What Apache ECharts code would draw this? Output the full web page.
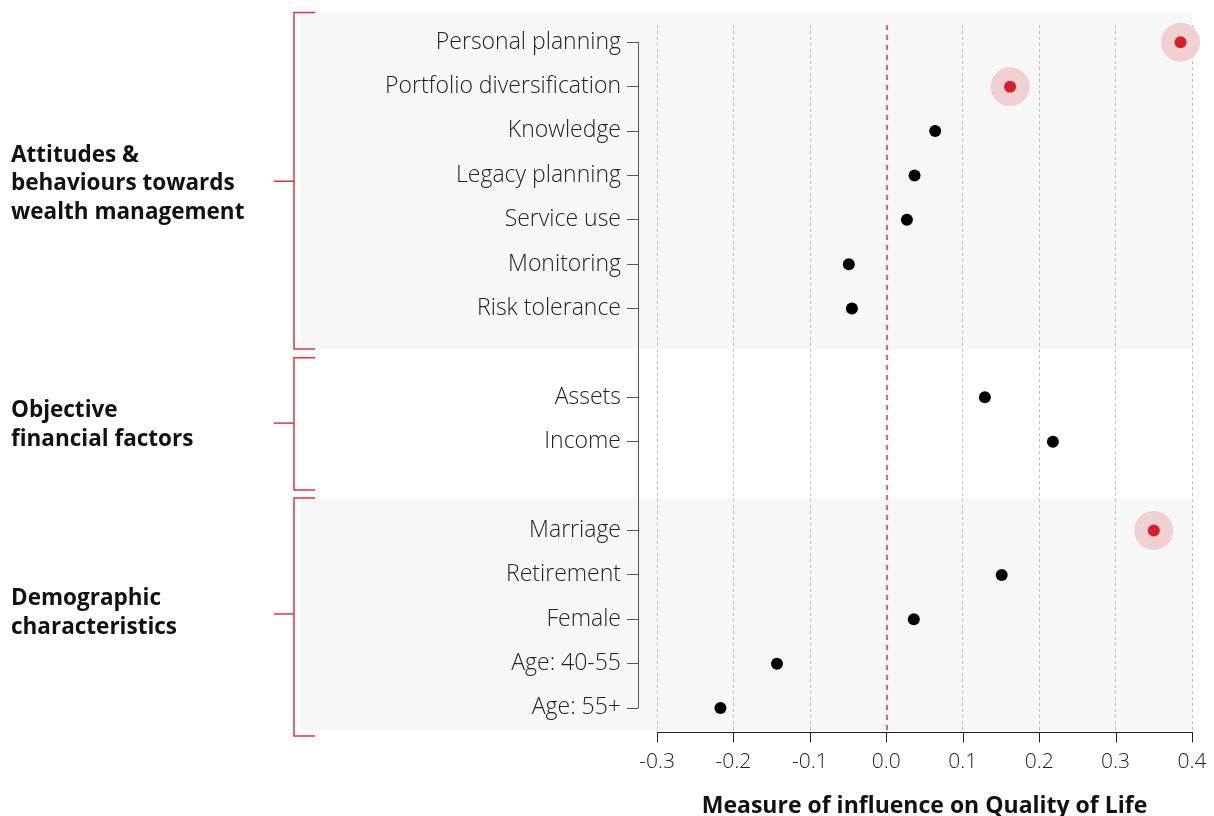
<!DOCTYPE html>
<html><head><meta charset="utf-8">
<script src="https://cdn.jsdelivr.net/npm/echarts@6/dist/echarts.min.js"></script>
<style>html,body{margin:0;padding:0;background:#fff}#c{width:1214px;height:816px}</style>
</head><body><div id="c"></div><script>
// ---- data ----
const categories = ['Personal planning','Portfolio diversification','Knowledge','Legacy planning','Service use','Monitoring','Risk tolerance',' ','Assets','Income','  ','Marriage','Retirement','Female','Age: 40-55','Age: 55+'];
const values = [0.385,0.162,0.064,0.037,0.027,-0.049,-0.045,null,0.129,0.218,null,0.350,0.151,0.036,-0.143,-0.217];
const highlighted = ['Personal planning','Portfolio diversification','Marriage'];
const xTickValues = [-0.3,-0.2,-0.1,0.0,0.1,0.2,0.3,0.4];
const groupLabels = ['Attitudes &\nbehaviours towards\nwealth management','Objective\nfinancial factors','Demographic\ncharacteristics'];
const xTitle = 'Measure of influence on Quality of Life';

// ---- decoration extents (in row-index units) ----
const shadeBands = [[-0.68, 6.91], [10.27, 15.5]];
const bracketBands = [[-0.67, 6.91], [7.11, 10.09], [10.27, 15.63]];
const bracketMids = [3.13, 8.58, 12.88];
const labelMids = [3.19, 8.63, 12.86];

const ROW_TOP = -0.39, ROW_BOTTOM = 15.54;

const FONT = '"Open Sans"';
const RED = '#d71f2a';
const chart = echarts.init(document.getElementById('c'), null, {renderer:'canvas'});

const blackPts = [], redPts = [];
categories.forEach((c,i)=>{
  if (values[i] == null) return;
  (highlighted.includes(c) ? redPts : blackPts).push([values[i], i]);
});

const splitColors = xTickValues.map(v => v === 0 ? 'rgba(0,0,0,0)' : '#bdbdbd');

// x axis baseline + ticks drawn through the x scale by a custom series
function renderAxisTick(params, api){
  const v = api.value(0);
  const p = api.coord([v, ROW_BOTTOM]);
  const x = Math.round(p[0]) + 0.5, y = Math.round(p[1]) + 0.5;
  const children = [{type:'line', shape:{x1:x, y1:y, x2:x, y2:y+10}, style:{stroke:'#222', lineWidth:1}}];
  if (params.dataIndex === 0){
    const q = api.coord([xTickValues[xTickValues.length-1], ROW_BOTTOM]);
    children.push({type:'line', shape:{x1:x-0.5, y1:y, x2:Math.round(q[0])+1, y2:y}, style:{stroke:'#222', lineWidth:1}});
  }
  return {type:'group', children};
}

chart.setOption({
  animation:false,
  backgroundColor:'#fff',
  grid:[
    {left:657, right:22, top:25, bottom:84, outerBoundsMode:'none'},
    {left:638, right:22, top:42.2, bottom:816-707.8, outerBoundsMode:'none'}
  ],
  xAxis:[
    {gridIndex:0, type:'value', min:-0.3, max:0.4, interval:0.1,
     axisLine:{show:false}, axisTick:{show:false},
     axisLabel:{fontFamily:FONT, fontWeight:300, fontSize:21, color:'#222', margin:20,
       formatter:v=>v.toFixed(1)},
     splitLine:{show:true, lineStyle:{color:splitColors, type:[3,3], width:1}},
     name:xTitle, nameLocation:'middle', nameGap:63,
     nameTextStyle:{fontFamily:FONT, fontWeight:700, fontSize:23, color:'#111'}},
    {gridIndex:1, type:'value', show:false, min:0, max:1}
  ],
  yAxis:[
    {gridIndex:0, type:'value', inverse:true, min:ROW_TOP, max:ROW_BOTTOM, show:false},
    {gridIndex:1, type:'category', inverse:true, boundaryGap:false, data:categories,
     axisLine:{show:true, onZero:false, lineStyle:{color:'#555', width:1}},
     axisTick:{show:true, length:11, lineStyle:{color:'#555'},
       interval:(idx, val)=> String(val).trim() !== ''},
     axisLabel:{fontFamily:FONT, fontWeight:300, fontSize:23, color:'#222', margin:17, interval:0},
     splitLine:{show:false}}
  ],
  series:[
    {type:'scatter', xAxisIndex:0, yAxisIndex:0, data:redPts, symbolSize:39,
     itemStyle:{color:'#f1d0d2', opacity:1}, silent:true, z:2},
    {type:'scatter', xAxisIndex:0, yAxisIndex:0, data:blackPts, symbolSize:12,
     itemStyle:{color:'#000', opacity:1}, z:3,
     markLine:{silent:true, symbol:'none', label:{show:false},
       lineStyle:{color:'#e0323c', type:[5,5], width:1.5},
       data:[{xAxis:0}]}},
    {type:'scatter', xAxisIndex:0, yAxisIndex:0, data:redPts, symbolSize:12,
     itemStyle:{color:RED, opacity:1}, z:4},
    {type:'custom', xAxisIndex:0, yAxisIndex:0, silent:true, clip:false, z:20,
     data:xTickValues.map(v=>[v]), encode:{x:0}, renderItem:renderAxisTick}
  ]
});

// decorations computed from the axes
function py(row){ return chart.convertToPixel({gridIndex:0}, [0, row])[1]; }
function px(v){ return chart.convertToPixel({gridIndex:0}, [v, 0])[0]; }
const right = px(0.4);
const gfx = [];
shadeBands.forEach(b=>{
  const y0 = py(b[0]), y1 = py(b[1]);
  gfx.push({type:'rect', z:-10, silent:true, shape:{x:300, y:y0, width:right-300, height:y1-y0}, style:{fill:'#f7f7f7'}});
});
const BR = '#e0353f';
bracketBands.forEach((b,i)=>{
  const y0 = py(b[0]), y1 = py(b[1]), ym = py(bracketMids[i]);
  gfx.push({type:'polyline', silent:true, shape:{points:[[315,y0],[294,y0],[294,y1],[315,y1]]}, style:{stroke:BR, lineWidth:1.5, fill:null}});
  gfx.push({type:'line', silent:true, shape:{x1:274, y1:ym, x2:294, y2:ym}, style:{stroke:BR, lineWidth:1.5}});
  gfx.push({type:'text', silent:true, x:11, y:py(labelMids[i]), style:{text:groupLabels[i], font:'bold 22.5px '+FONT, fill:'#111', lineHeight:28.5, verticalAlign:'middle', align:'left'}});
});
chart.setOption({graphic:gfx});
</script></body></html>
